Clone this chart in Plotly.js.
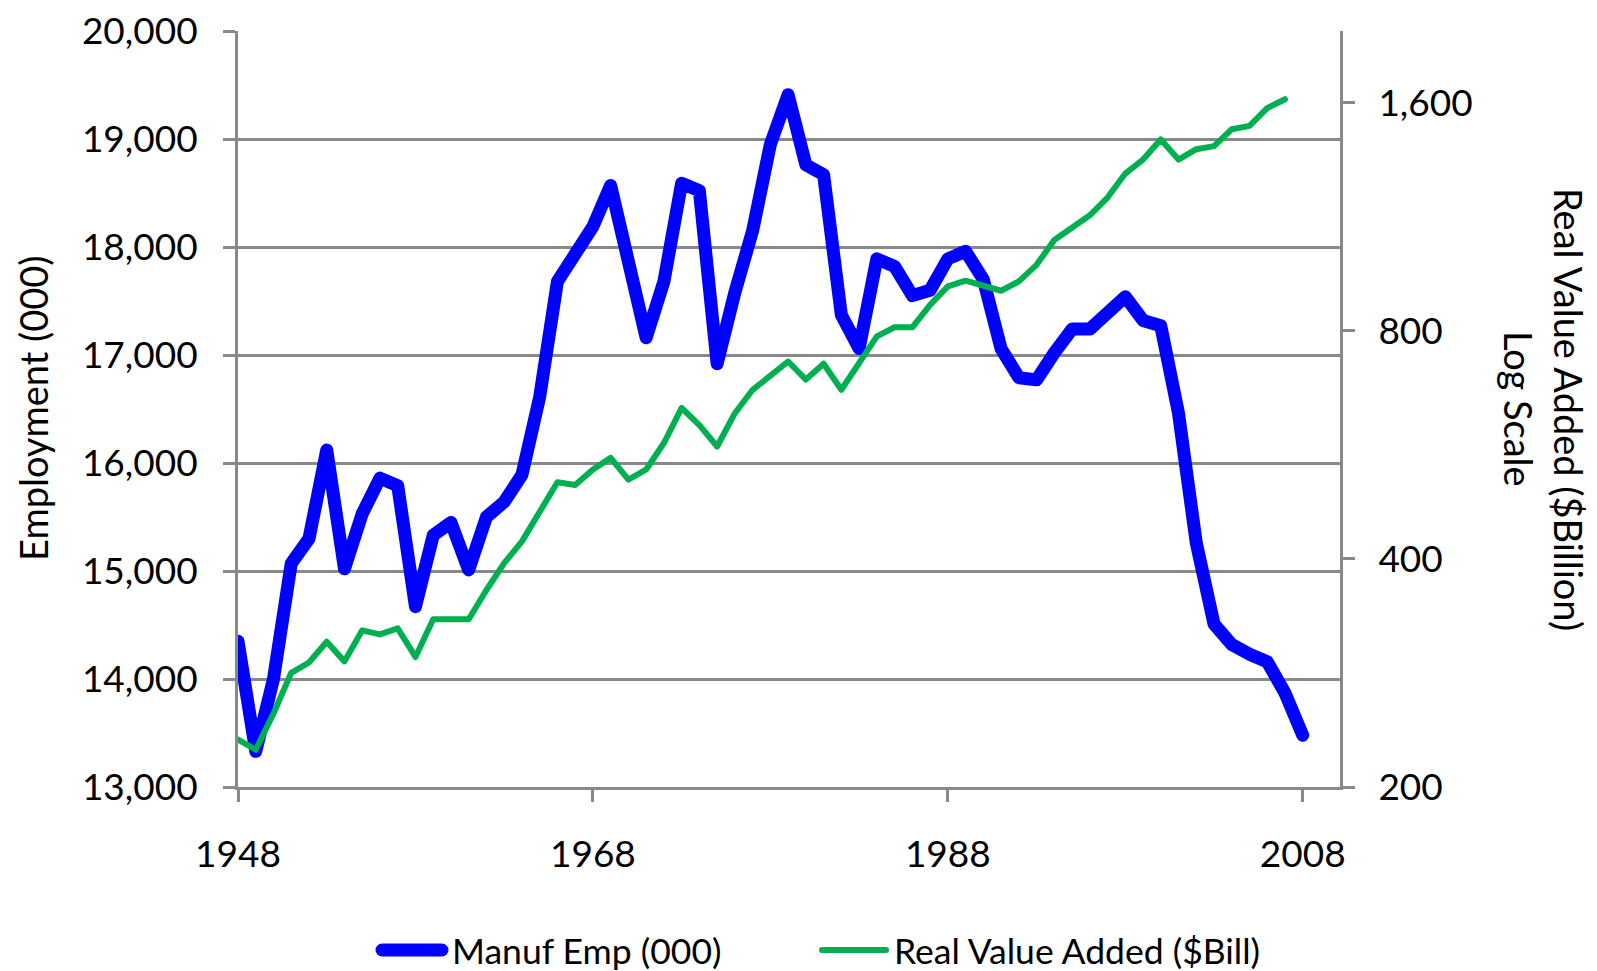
<!DOCTYPE html>
<html>
<head>
<meta charset="utf-8">
<script src="https://cdn.plot.ly/plotly-3.0.1.min.js"></script>
<style>
  html, body { margin: 0; padding: 0; background: #ffffff; }
  #chart { width: 1597px; height: 971px; }
  .js-line { stroke-linejoin: round !important; stroke-linecap: round !important; }
  .shapelayer path { stroke-linecap: round !important; }
</style>
</head>
<body>
<div id="chart"></div>
<script>
// ---- data ----
const empYears = [1948,1949,1950,1951,1952,1953,1954,1955,1956,1957,1958,1959,1960,1961,1962,1963,1964,1965,1966,1967,1968,1969,1970,1971,1972,1973,1974,1975,1976,1977,1978,1979,1980,1981,1982,1983,1984,1985,1986,1987,1988,1989,1990,1991,1992,1993,1994,1995,1996,1997,1998,1999,2000,2001,2002,2003,2004,2005,2006,2007,2008];
const manufEmp = [14350,13330,14000,15070,15300,16120,15020,15530,15860,15790,14670,15330,15450,15010,15500,15640,15890,16610,17680,17920,18190,18570,17830,17160,17680,18590,18520,16920,17580,18150,18950,19410,18760,18670,17370,17060,17890,17820,17550,17600,17890,17960,17700,17060,16790,16770,17020,17240,17240,17400,17540,17320,17270,16460,15260,14510,14320,14230,14160,13870,13480];

const vaYears = [1948,1949,1950,1951,1952,1953,1954,1955,1956,1957,1958,1959,1960,1961,1962,1963,1964,1965,1966,1967,1968,1969,1970,1971,1972,1973,1974,1975,1976,1977,1978,1979,1980,1981,1982,1983,1984,1985,1986,1987,1988,1989,1990,1991,1992,1993,1994,1995,1996,1997,1998,1999,2000,2001,2002,2003,2004,2005,2006,2007];
const realValueAdded = [231,224,250,283,292,311,293,322,318,324,297,333,333,333,364,395,422,460,505,501,525,544,509,525,569,633,601,563,623,669,700,729,690,724,669,728,787,809,809,866,916,932,917,904,930,978,1055,1093,1137,1200,1291,1347,1432,1347,1390,1403,1477,1492,1575,1618];

const xTickVals = [1948, 1968, 1988, 2008];
const xTickText = ['1948', '1968', '1988', '2008'];
const rightTickVals = [200, 400, 800, 1600];
const rightTickText = ['200', '400', '800', '1,600'];

const seriesNames = ['Manuf Emp (000)', 'Real Value Added ($Bill)'];
const leftTitle = 'Employment (000)';
const rightTitle1 = 'Real Value Added ($Billion)';
const rightTitle2 = 'Log Scale';

// ---- styling / layout ----
const W = 1597, H = 971;
const M = { l: 238, r: 257, t: 31, b: 184 };
const PW = W - M.l - M.r, PH = H - M.t - M.b;
const px2x = p => (p - M.l) / PW;
const px2y = p => (H - M.b - p) / PH;

const FONT = 'Lato, "Open Sans", sans-serif';
const GRID = '#898989';
const BLUE = '#0000FF';
const GREEN = '#00B050';

const traces = [
  { x: empYears, y: manufEmp, name: seriesNames[0], type: 'scatter', mode: 'lines',
    line: { color: BLUE, width: 13 }, yaxis: 'y', hoverinfo: 'x+y' },
  { x: vaYears, y: realValueAdded, name: seriesNames[1], type: 'scatter', mode: 'lines',
    line: { color: GREEN, width: 6 }, yaxis: 'y2', hoverinfo: 'x+y' }
];

const legY = px2y(950);
const layout = {
  width: W, height: H,
  margin: M,
  paper_bgcolor: '#ffffff', plot_bgcolor: '#ffffff',
  showlegend: false,
  font: { family: FONT, color: '#000000', size: 37 },
  xaxis: {
    range: [1948, 2010.1], tickvals: xTickVals, ticktext: xTickText,
    showgrid: false, zeroline: false, showline: true, linecolor: GRID, linewidth: 3,
    ticks: 'outside', ticklen: 12, tickwidth: 3, tickcolor: GRID,
    ticklabelstandoff: 21,
    tickfont: { family: FONT, size: 37, color: '#000' }
  },
  yaxis: {
    range: [13000, 20000], dtick: 1000, tickformat: ',d',
    showgrid: true, gridcolor: GRID, gridwidth: 3, zeroline: false,
    showline: true, linecolor: GRID, linewidth: 3,
    ticks: 'outside', ticklen: 12, tickwidth: 3, tickcolor: GRID,
    ticklabelstandoff: 18,
    tickfont: { family: FONT, size: 37, color: '#000' }
  },
  yaxis2: {
    overlaying: 'y', side: 'right', type: 'log',
    range: [Math.log10(200), Math.log10(1991)],
    tickvals: rightTickVals, ticktext: rightTickText,
    showgrid: false, zeroline: false, showline: true, linecolor: GRID, linewidth: 3,
    ticks: 'outside', ticklen: 12, tickwidth: 3, tickcolor: GRID,
    ticklabelstandoff: 16,
    tickfont: { family: FONT, size: 37, color: '#000' }
  },
  annotations: [
    { text: leftTitle, xref: 'paper', yref: 'paper', x: px2x(33), y: 0.5,
      xanchor: 'center', yanchor: 'middle', textangle: -90, showarrow: false,
      font: { family: FONT, size: 38, color: '#000' } },
    { text: rightTitle1, xref: 'paper', yref: 'paper', x: px2x(1569), y: 0.5,
      xanchor: 'center', yanchor: 'middle', textangle: 90, showarrow: false,
      font: { family: FONT, size: 38, color: '#000' } },
    { text: rightTitle2, xref: 'paper', yref: 'paper', x: px2x(1519), y: 0.5,
      xanchor: 'center', yanchor: 'middle', textangle: 90, showarrow: false,
      font: { family: FONT, size: 38, color: '#000' } },
    { text: seriesNames[0], xref: 'paper', yref: 'paper', x: px2x(450), y: legY,
      xanchor: 'left', yanchor: 'middle', showarrow: false,
      font: { family: FONT, size: 35.5, color: '#000' } },
    { text: seriesNames[1], xref: 'paper', yref: 'paper', x: px2x(892), y: legY,
      xanchor: 'left', yanchor: 'middle', showarrow: false,
      font: { family: FONT, size: 35.5, color: '#000' } }
  ],
  shapes: [
    { type: 'line', xref: 'paper', yref: 'paper', x0: px2x(382), x1: px2x(442), y0: legY, y1: legY,
      line: { color: BLUE, width: 13 } },
    { type: 'line', xref: 'paper', yref: 'paper', x0: px2x(822), x1: px2x(886), y0: legY, y1: legY,
      line: { color: GREEN, width: 6 } }
  ]
};

Plotly.newPlot('chart', traces, layout, { staticPlot: true, displayModeBar: false });
</script>
</body>
</html>
